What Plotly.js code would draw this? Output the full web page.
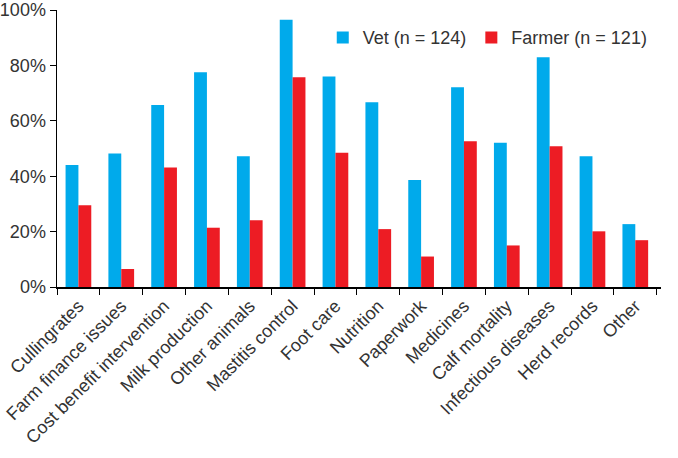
<!DOCTYPE html>
<html>
<head>
<meta charset="utf-8">
<script src="https://cdn.plot.ly/plotly-3.0.1.min.js"></script>
<style>html,body{margin:0;padding:0;background:#fff;}#chart{width:678px;height:458px;}</style>
</head>
<body>
<div id="chart"></div>
<script>
const categories = ["Cullingrates","Farm finance issues","Cost benefit intervention","Milk production","Other animals","Mastitis control","Foot care","Nutrition","Paperwork","Medicines","Calf mortality","Infectious diseases","Herd records","Other"];
const vetValues = [44, 48.2, 65.7, 77.5, 47.2, 96.5, 76, 66.7, 38.6, 72.1, 52.1, 82.9, 47.2, 22.7];
const farmerValues = [29.5, 6.5, 43.1, 21.4, 24.1, 75.7, 48.5, 20.9, 11, 52.6, 15, 50.8, 20.1, 16.9];
const yTickVals = [0, 20, 40, 60, 80, 100];
const yTickText = ["0%", "20%", "40%", "60%", "80%", "100%"];

const font = {family: "Liberation Sans, Arial, sans-serif", size: 18, color: "#333"};
const data = [
  {type: "bar", name: "Vet (n = 124)", x: categories, y: vetValues, marker: {color: "#00AAEB"}},
  {type: "bar", name: "Farmer (n = 121)", x: categories, y: farmerValues, marker: {color: "#ED1C24"}}
];
const layout = {
  width: 678, height: 458,
  margin: {l: 57, r: 17, t: 10, b: 171, pad: 0},
  paper_bgcolor: "#fff", plot_bgcolor: "#fff",
  font: font,
  barmode: "group", bargap: 0.4, bargroupgap: 0,
  showlegend: true,
  legend: {orientation: "h", x: 0.44, y: 0.9, xanchor: "left", yanchor: "middle", font: font, bgcolor: "rgba(0,0,0,0)", itemwidth: 30},
  xaxis: {
    type: "category", range: [-0.5, 13.6], tickangle: -45, tickson: "boundaries",
    ticks: "outside", ticklen: 6, tickcolor: "#000", showline: true, linecolor: "#000", linewidth: 1.5,
    showgrid: false, zeroline: false, tickfont: font, fixedrange: true
  },
  yaxis: {
    range: [0, 100], tickvals: yTickVals, ticktext: yTickText,
    ticks: "outside", ticklen: 6, tickcolor: "#000", showline: true, linecolor: "#000", linewidth: 1.5,
    showgrid: false, zeroline: false, tickfont: font, fixedrange: true
  }
};
Plotly.newPlot("chart", data, layout, {displayModeBar: false, staticPlot: true});
</script>
</body>
</html>
